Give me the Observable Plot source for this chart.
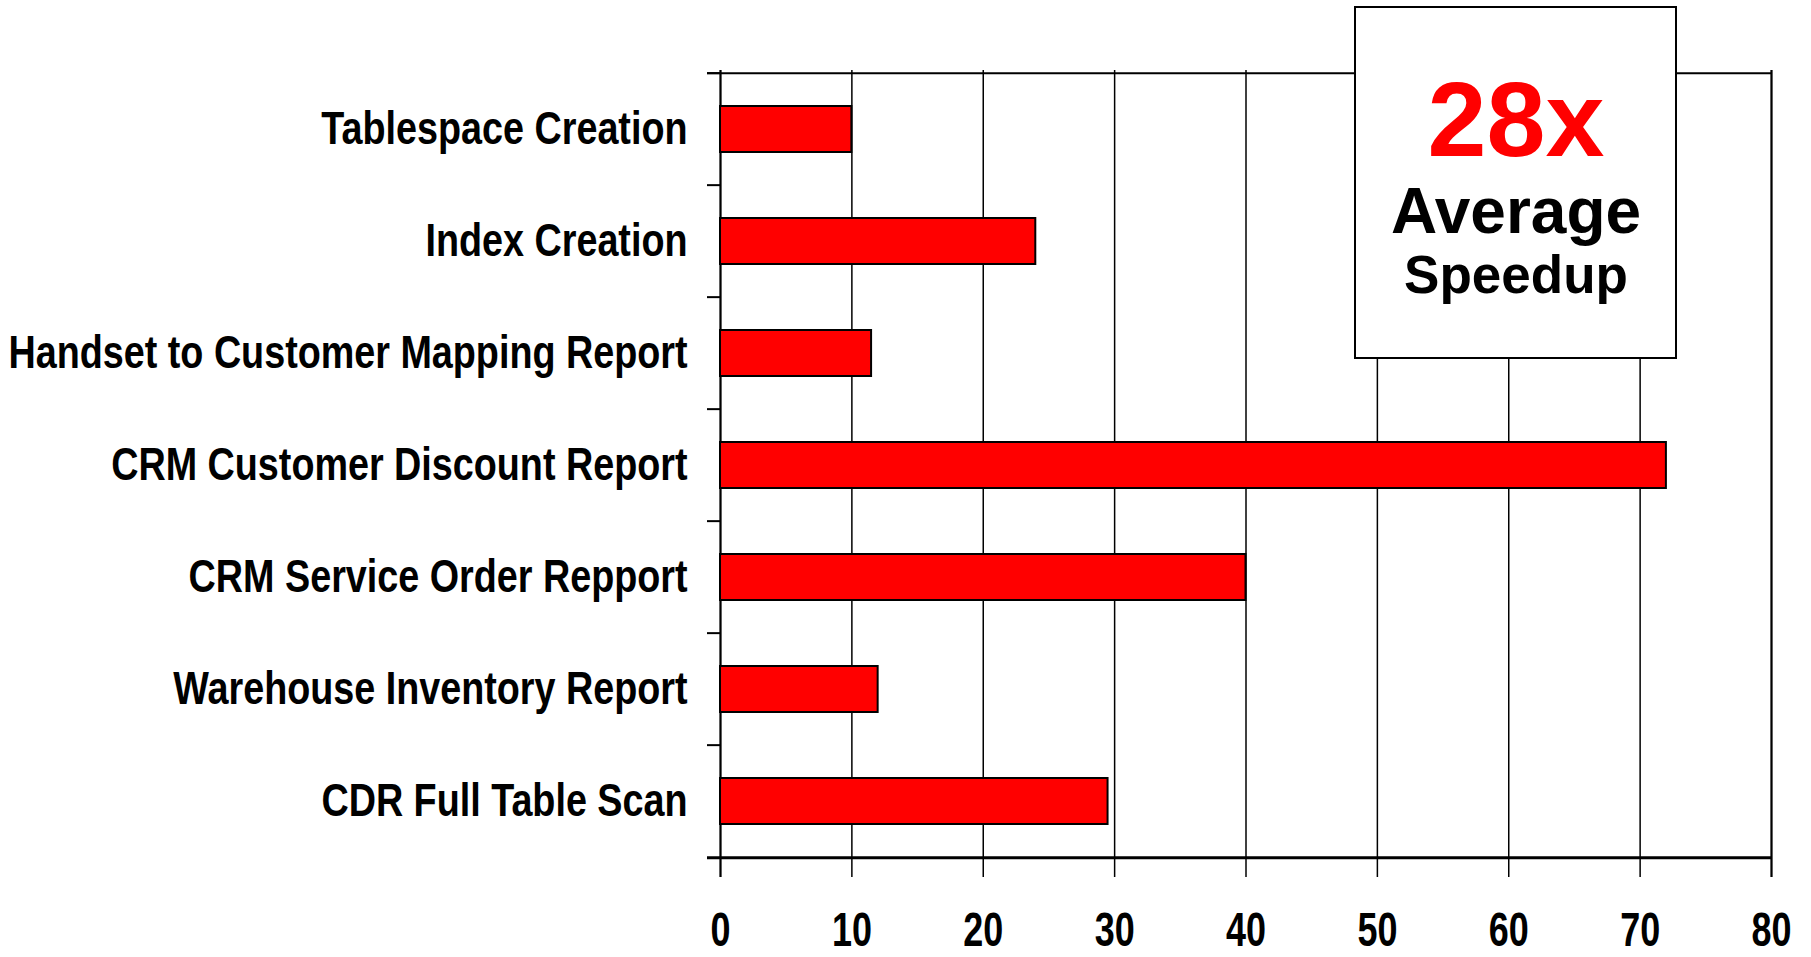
<!DOCTYPE html>
<html><head><meta charset="utf-8">
<script src="https://cdn.jsdelivr.net/npm/d3@7"></script>
<script src="https://cdn.jsdelivr.net/npm/@observablehq/plot@0.6"></script>
<style>
body{margin:0;background:#fff;}
#wrap{position:relative;width:1811px;height:957px;}
</style></head><body><div id="wrap"></div>
<script>
const categories = [
  "Tablespace Creation",
  "Index Creation",
  "Handset to Customer Mapping Report",
  "CRM Customer Discount Report",
  "CRM Service Order Repport",
  "Warehouse Inventory Report",
  "CDR Full Table Scan"
];
const values = [10, 24, 11.5, 72, 40, 12, 29.5];
const xTicks = [0, 10, 20, 30, 40, 50, 60, 70, 80];
const calloutLines = ["Average", "Speedup"];

const W = 1811, H = 957, mT = 70, mB = 98, mL = 720, mR = 40;
const data = categories.map((c, i) => ({category: c, value: values[i]}));
const step = (H - mT - mB) / categories.length;
const font = '"Liberation Sans",Arial,sans-serif';
const speedup = Math.round(d3.mean(values)) + "x";

function callout() {
  const g = d3.create("svg:g");
  g.append("rect").attr("x", 1355).attr("y", 7).attr("width", 321).attr("height", 351)
    .attr("fill", "#fff").attr("stroke", "#000").attr("stroke-width", 2);
  const cx = 1516;
  g.append("text").attr("x", cx).attr("y", 156).attr("text-anchor", "middle")
    .attr("font-family", font).attr("font-weight", "bold").attr("font-size", 106)
    .attr("fill", "#ff0000").text(speedup);
  g.append("text").attr("x", cx).attr("y", 233).attr("text-anchor", "middle")
    .attr("font-family", font).attr("font-weight", "bold").attr("font-size", 64)
    .attr("fill", "#000").text(calloutLines[0]);
  g.append("text").attr("x", cx).attr("y", 293).attr("text-anchor", "middle")
    .attr("font-family", font).attr("font-weight", "bold").attr("font-size", 53)
    .attr("fill", "#000").text(calloutLines[1]);
  return g.node();
}

const chart = Plot.plot({
  width: W, height: H,
  marginTop: mT, marginBottom: mB, marginLeft: mL, marginRight: mR,
  style: {background: "#fff", color: "#000", overflow: "visible"},
  x: {domain: [0, 80], ticks: xTicks},
  y: {domain: categories, paddingInner: 0.59, paddingOuter: 0.295, label: null},
  marks: [
    Plot.ruleX(xTicks, {x: d => d, stroke: "#000", strokeWidth: 1.5, insetBottom: -18}),
    Plot.ruleX([0, 80], {x: d => d, stroke: "#000", strokeWidth: 2, insetBottom: -18}),
    Plot.barX(data, {y: "category", x: "value", fill: "#ff0000", stroke: "#000", strokeWidth: 2}),
    Plot.ruleY(categories, {y: d => d, dy: -step / 2, x1: 0, x2: 0, insetLeft: -13, stroke: "#000", strokeWidth: 2}),
    Plot.ruleY([categories[0]], {y: d => d, dy: -step / 2, x1: 0, x2: 80, insetLeft: -13, stroke: "#000", strokeWidth: 2}),
    Plot.ruleY([categories[categories.length - 1]], {y: d => d, dy: step / 2, x1: 0, x2: 80, insetLeft: -13, stroke: "#000", strokeWidth: 3}),
    Plot.axisX({ticks: xTicks, tickSize: 0, tickPadding: 52, label: null, fontSize: 48, fontFamily: font, fontWeight: "bold", fill: "#000"}),
    Plot.axisY({tickSize: 0, tickPadding: 33, label: null, fontSize: 46, fontFamily: font, fontWeight: "bold", fill: "#000"}),
    callout
  ]
});
document.getElementById("wrap").appendChild(chart);

// condense the axis labels horizontally (narrow bold face)
function condense(sel, k) {
  d3.select(chart).selectAll(sel).each(function () {
    const len = this.getComputedTextLength();
    this.setAttribute("textLength", (len * k).toFixed(1));
    this.setAttribute("lengthAdjust", "spacingAndGlyphs");
  });
}
condense('g[aria-label="x-axis tick label"] text', 0.75);
condense('g[aria-label="y-axis tick label"] text', 0.82);
</script>
</body></html>
